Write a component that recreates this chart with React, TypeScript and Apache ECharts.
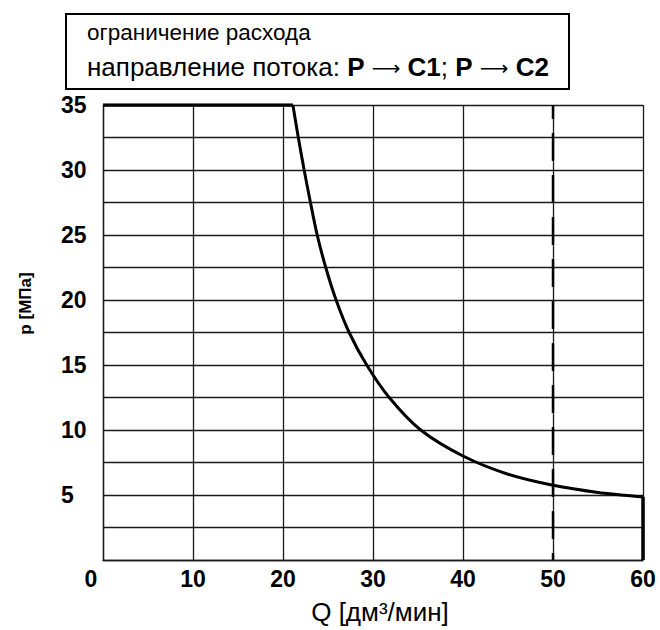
import React, { useEffect, useRef } from "react";
import * as echarts from "echarts";

const xTicks = [0, 10, 20, 30, 40, 50, 60];
const yLabelValues = [5, 10, 15, 20, 25, 30, 35];

// Constant pressure limit segment (Q, p)
const flatSegment: [number, number][] = [
  [0, 35],
  [21.1, 35],
];

// Flow limitation curve (Q, p)
const curveQ = [21.1, 21.7, 22.35, 23.05, 23.8, 24.75, 25.9, 27.35, 29.3, 31.8, 35.3, 40, 45, 50, 55, 60];
const curveP = [35, 32.5, 30, 27.5, 25, 22.5, 20, 17.5, 15, 12.5, 10, 8.0, 6.6, 5.75, 5.2, 4.85];

// Vertical end at max flow
const endSegment: [number, number][] = [
  [60, 4.85],
  [60, 0],
];

// Dashed reference line at Q = 50
const dashedLine: [number, number][] = [
  [50, 35],
  [50, 0],
];

const headerLine1 = "ограничение расхода";
const headerLine2 = "направление потока: {b|P} {a|⟶} {b|C1}; {b|P} {a|⟶} {b|C2}";
const xName = "Q [дм³/мин]";
const yName = "p [МПа]";

const FONT = "'Liberation Sans', Arial, sans-serif";

export default function App() {
  const ref = useRef<HTMLDivElement>(null);

  useEffect(() => {
    if (!ref.current) return;
    const chart = echarts.init(ref.current, undefined, { renderer: "svg" });
    const curveData = curveQ.map((q, i) => [q, curveP[i]]);
    chart.setOption({
      animation: false,
      backgroundColor: "#fff",
      grid: { left: 103, right: 17, top: 105, bottom: 67, containLabel: false },
      xAxis: {
        type: "value",
        min: 0,
        max: 60,
        interval: 10,
        name: xName,
        nameLocation: "middle",
        nameGap: 39,
        nameTextStyle: { fontFamily: FONT, fontSize: 26, color: "#000", padding: [0, 0, 0, 14] },
        axisLine: { show: true, lineStyle: { color: "#1a1a1a", width: 1.3 } },
        axisTick: { show: false },
        splitLine: { show: true, lineStyle: { color: "#1a1a1a", width: 1.3 } },
        axisLabel: {
          margin: 7,
          fontFamily: FONT,
          fontSize: 23,
          fontWeight: "bold",
          color: "#000",
          formatter: (v: number) => (xTicks.includes(v) ? (v === 0 ? "{z|0}" : String(v)) : ""),
          rich: {
            z: {
              fontFamily: FONT,
              fontSize: 23,
              fontWeight: "bold",
              color: "#000",
              padding: [0, 24, 4, 0],
            },
          },
        },
      },
      yAxis: {
        type: "value",
        min: 0,
        max: 35,
        interval: 2.5,
        name: yName,
        nameLocation: "middle",
        nameRotate: 90,
        nameGap: 69,
        nameTextStyle: {
          fontFamily: FONT,
          fontSize: 17,
          fontWeight: "bold",
          color: "#000",
          padding: [0, 0, 0, 58],
        },
        axisLine: { show: true, lineStyle: { color: "#1a1a1a", width: 1.3 } },
        axisTick: { show: false },
        splitLine: { show: true, lineStyle: { color: "#1a1a1a", width: 1.3 } },
        axisLabel: {
          align: "left",
          margin: 42,
          fontFamily: FONT,
          fontSize: 23,
          fontWeight: "bold",
          color: "#000",
          formatter: (v: number) => (yLabelValues.includes(v) ? String(v) : ""),
        },
      },
      graphic: [
        {
          type: "rect",
          left: 65,
          top: 13,
          shape: { width: 503, height: 75 },
          style: { fill: "#fff", stroke: "#000", lineWidth: 2 },
        },
        {
          type: "text",
          x: 87,
          y: 32,
          style: {
            text: headerLine1,
            fontFamily: FONT,
            fontSize: 22.5,
            fill: "#000",
            verticalAlign: "middle",
          },
        },
        {
          type: "text",
          x: 87,
          y: 67,
          style: {
            text: headerLine2,
            fontFamily: FONT,
            fontSize: 26,
            fill: "#000",
            verticalAlign: "middle",
            rich: {
              b: { fontFamily: FONT, fontSize: 26, fontWeight: "bold", fill: "#000" },
              a: { fontFamily: "'DejaVu Sans', sans-serif", fontSize: 20, fill: "#000", padding: [2, 0, 0, 0] },
            },
          },
        },
      ],
      series: [
        {
          type: "line",
          data: flatSegment,
          symbol: "none",
          lineStyle: { color: "#000", width: 3.5 },
          z: 5,
        },
        {
          type: "line",
          data: curveData,
          symbol: "none",
          smooth: 0.3,
          lineStyle: { color: "#000", width: 3 },
          z: 5,
        },
        {
          type: "line",
          data: endSegment,
          symbol: "none",
          lineStyle: { color: "#000", width: 3.5 },
          z: 5,
        },
        {
          type: "line",
          data: dashedLine,
          symbol: "none",
          lineStyle: { color: "#000", width: 2.5, type: [28, 14], dashOffset: 14 },
          z: 4,
        },
      ],
    });
    return () => chart.dispose();
  }, []);

  return (
    <div
      ref={ref}
      style={{ position: "absolute", left: 0, top: 0, width: 660, height: 630 }}
    />
  );
}
